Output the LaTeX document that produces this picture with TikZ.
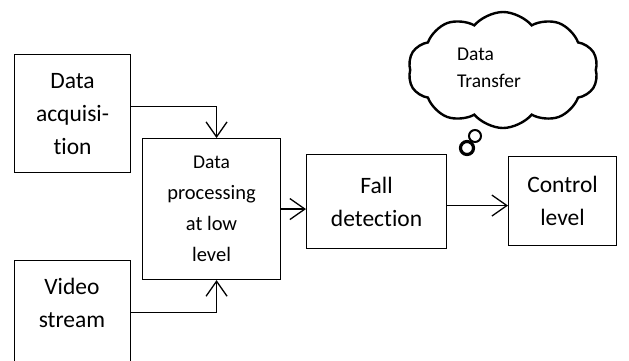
\documentclass[tikz,border=0pt]{standalone}
\usepackage{fontspec}
\setmainfont{Carlito}[Ligatures={NoCommon,NoContextual}]
\usetikzlibrary{arrows.meta,shapes.symbols}
\begin{document}
\begin{tikzpicture}[x=1pt,y=-1pt,
 blk/.style={draw,line width=1.1pt,inner sep=0pt,anchor=north west,align=center,font=\fontsize{23.5}{33}\selectfont},
 conn/.style={line width=1.6pt,-{Straight Barb[length=15pt,width=21pt,line width=1.3pt]}},
 bub/.style={circle,draw,inner sep=0pt},
]
\useasboundingbox (0,0) rectangle (629,360);
\node[blk,minimum width=116pt,minimum height=118pt] (da) at (14,54) {Data\\acquisi-\\tion};
\node[blk,minimum width=116pt,minimum height=116pt] (vs) at (14,260) {};
\node[align=center,inner sep=0pt,font=\fontsize{23.5}{33}\selectfont] (vst) at (72,303) {Video\\stream};
\node[blk,minimum width=138pt,minimum height=141pt,font=\fontsize{20.5}{31}\selectfont] (dp) at (142,138) {{\fontsize{19.5}{31}\selectfont Data}\\processing\\at low\\level};
\node[blk,minimum width=140pt,minimum height=94pt] (fd) at (306,154) {Fall\\detection};
\node[blk,minimum width=108pt,minimum height=89pt] (cl) at (508,156) {Control\\level};
\draw[conn] ([yshift=7pt]da.east) -| ([xshift=5pt]dp.north);
\draw[conn] ([yshift=6pt]vs.east) -| ([xshift=5pt]dp.south);
\draw[conn] (dp.east) -- (dp.east -| fd.west);
\draw[conn] ([yshift=-4pt]fd.east) coordinate (f1) -- (f1 -| cl.west);
\node[cloud,draw,line width=2.4pt,cloud puffs=10,cloud puff arc=100,minimum width=190pt,minimum height=116pt,cloud ignores aspect,inner sep=0pt] (cd) at (503,70) {};
\node[align=left,anchor=west,inner sep=0pt,font=\fontsize{19.5}{27}\selectfont] (cdt) at (457,68) {Data\\Transfer};
\node[bub,line width=2pt,minimum size=12pt] (b1) at (475,136) {};
\node[bub,line width=3.2pt,minimum size=13pt] (b2) at (467,148) {};
\end{tikzpicture}
\end{document}
